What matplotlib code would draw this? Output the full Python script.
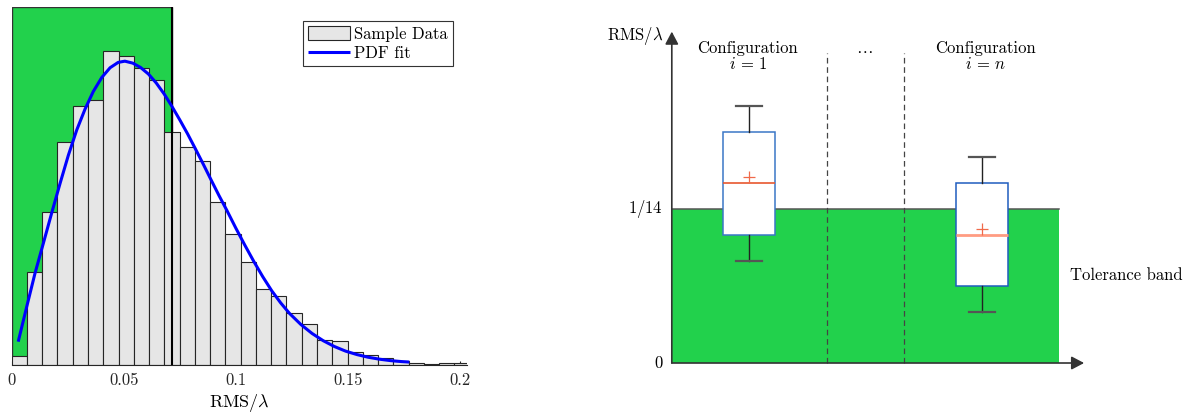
import numpy as np
import matplotlib
matplotlib.use('Agg')
import matplotlib.pyplot as plt
from matplotlib.patches import Rectangle

plt.rcParams['font.family'] = 'serif'
plt.rcParams['font.serif'] = ['cmr10', 'DejaVu Serif']
plt.rcParams['mathtext.fontset'] = 'cm'
plt.rcParams['axes.formatter.use_mathtext'] = True

# ---- left panel: histogram of RMS/lambda (pdf normalised) + fit ----
bin_width = 0.00681
bin_density = [0.36, 3.80, 6.28, 9.18, 10.65, 10.89, 12.91, 12.71, 12.21, 11.72,
               9.57, 8.98, 8.37, 6.70, 5.37, 4.22, 3.12, 2.82, 2.13, 1.66,
               1.03, 0.95, 0.52, 0.41, 0.25, 0.16, 0.05, 0.02, 0.08, 0.08]
pdf_x = [0.0029, 0.0067, 0.0104, 0.0141, 0.0178, 0.0216, 0.0253, 0.0290, 0.0327,
         0.0364, 0.0402, 0.0439, 0.0475, 0.0505, 0.0540, 0.0575, 0.0610, 0.0645,
         0.0680, 0.0714, 0.0750, 0.0785, 0.0820, 0.0855, 0.0890, 0.0925, 0.0960,
         0.1000, 0.1040, 0.1080, 0.1120, 0.1160, 0.1200, 0.1240, 0.1290, 0.1340,
         0.1390, 0.1440, 0.1490, 0.1540, 0.1590, 0.1640, 0.1690, 0.1740, 0.1774]
pdf_y = [0.94, 2.38, 3.76, 4.99, 6.23, 7.47, 8.63, 9.66, 10.52,
         11.25, 11.83, 12.23, 12.45, 12.50, 12.42, 12.24, 11.97, 11.60,
         11.15, 10.65, 10.08, 9.50, 8.88, 8.25, 7.60, 6.96, 6.35,
         5.62, 4.92, 4.25, 3.62, 3.04, 2.54, 2.10, 1.65, 1.28,
         0.98, 0.74, 0.55, 0.41, 0.30, 0.22, 0.16, 0.12, 0.10]
tolerance = 1 / 14
x_ticks = [0, 0.05, 0.1, 0.15, 0.2]
x_tick_labels = ['0', '0.05', '0.1', '0.15', '0.2']

# ---- right panel: box plot sketch per configuration ----
box_positions = [1, 4]
box_stats = [
    dict(whislo=0.0473, q1=0.0592, med=0.0831, mean=0.0859, q3=0.1069, whishi=0.1190, fliers=[]),
    dict(whislo=0.0234, q1=0.0356, med=0.0592, mean=0.0618, q3=0.0831, whishi=0.0951, fliers=[]),
]
box_edge_colors = ['#3a76c6', '#1f5dbf']
median_colors = ['#e8582f', '#ff9c82']
median_widths = [1.2, 2.0]

green = '#22d14c'

fig = plt.figure(figsize=(11.93, 4.12), dpi=100)

# left axes
ax = fig.add_axes([11.7 / 1193, 47.5 / 412, 455 / 1193, 357.2 / 412])
ymax = 14.72
ax.add_patch(Rectangle((0, 0), tolerance, ymax, facecolor=green, edgecolor='#333333',
                       linewidth=1.0, zorder=1))
bin_left = np.arange(len(bin_density)) * bin_width
bars = ax.bar(bin_left, bin_density, width=bin_width, align='edge', color='#e6e6e6',
              edgecolor='#262626', linewidth=0.8, zorder=2, label='Sample Data')
ax.plot([tolerance, tolerance], [0, ymax], color='black', linewidth=1.5, zorder=3)
fit_line, = ax.plot(pdf_x, pdf_y, color='#0000ff', linewidth=2.2, zorder=4,
                    label='PDF fit', solid_capstyle='butt')
ax.set_xlim(0, 0.2030)
ax.set_ylim(0, ymax)
ax.set_yticks([])
ax.set_xticks(x_ticks)
ax.set_xticklabels(x_tick_labels)
ax.tick_params(axis='x', direction='in', length=3, width=0.8, labelsize=12, pad=6,
               colors='#262626')
for s in ['top', 'right', 'left']:
    ax.spines[s].set_visible(False)
ax.spines['bottom'].set_color('#262626')
ax.spines['bottom'].set_linewidth(0.8)
ax.set_xlabel(r'$\mathrm{RMS}/\lambda$', fontsize=13, labelpad=3)
leg = ax.legend([bars, fit_line], ['Sample Data', 'PDF fit'],
                loc='upper right', bbox_to_anchor=(0.969, 0.961), borderaxespad=0,
                fontsize=12, fancybox=False, framealpha=1, edgecolor='#333333',
                handlelength=2.5, handleheight=0.9, handletextpad=0.25,
                labelspacing=0.2, borderpad=0.3)
leg.get_frame().set_linewidth(0.8)

# right axes (schematic)
ax2 = fig.add_axes([600 / 1193, 0, 593 / 1193, 1])
ax2.set_xlim(-0.9265, 6.725)
ax2.set_ylim(-0.02265, 0.16782)
ax2.axis('off')

ax2.add_patch(Rectangle((0, 0), 5, tolerance, facecolor=green, edgecolor='none', zorder=1))
ax2.plot([0, 5], [tolerance, tolerance], color='#555555', linewidth=1.1, zorder=2)
for xd in [2, 3]:
    ax2.plot([xd, xd], [0, 0.1433], color='#444444', linewidth=0.9,
             linestyle=(0, (4.5, 3)), zorder=2)

bp = ax2.bxp(box_stats, positions=box_positions, widths=0.675, showmeans=True,
             showfliers=False, patch_artist=True, zorder=3,
             boxprops=dict(facecolor='white', linewidth=1.1),
             whiskerprops=dict(color='#222222', linewidth=1.0),
             capprops=dict(color='#555555', linewidth=1.6),
             meanprops=dict(marker='+', markeredgecolor='#f06a4a', markersize=9,
                            markeredgewidth=0.9))
for i, box in enumerate(bp['boxes']):
    box.set_edgecolor(box_edge_colors[i])
    bp['medians'][i].set_color(median_colors[i])
    bp['medians'][i].set_linewidth(median_widths[i])

arrow_style = dict(arrowstyle='-|>,head_length=0.38,head_width=0.2', color='#333333',
                   linewidth=1.2, shrinkA=0, shrinkB=0, mutation_scale=20)
ax2.annotate('', xy=(5.32, 0), xytext=(0, 0), arrowprops=arrow_style, zorder=5)
ax2.annotate('', xy=(0, 0.1532), xytext=(0, 0), arrowprops=arrow_style, zorder=5)

fs = 12
ax2.text(-0.11, 0.1493, r'$\mathrm{RMS}/\lambda$', ha='right', va='baseline', fontsize=fs)
ax2.text(-0.11, tolerance, r'$1/14$', ha='right', va='center', fontsize=fs)
ax2.text(-0.11, 0, r'$0$', ha='right', va='center', fontsize=fs)
ax2.text(0.98, 0.1431, 'Configuration', ha='center', va='baseline', fontsize=fs)
ax2.text(0.98, 0.1357, r'$i\,=\,1$', ha='center', va='baseline', fontsize=fs)
ax2.text(4.05, 0.1431, 'Configuration', ha='center', va='baseline', fontsize=fs)
ax2.text(4.05, 0.1357, r'$i\,=\,n$', ha='center', va='baseline', fontsize=fs)
ax2.text(2.49, 0.1431, r'$\ldots$', ha='center', va='baseline', fontsize=fs)
ax2.text(5.14, 0.0384, 'Tolerance band', ha='left', va='baseline', fontsize=fs)

fig.savefig('out.png', dpi=100)
